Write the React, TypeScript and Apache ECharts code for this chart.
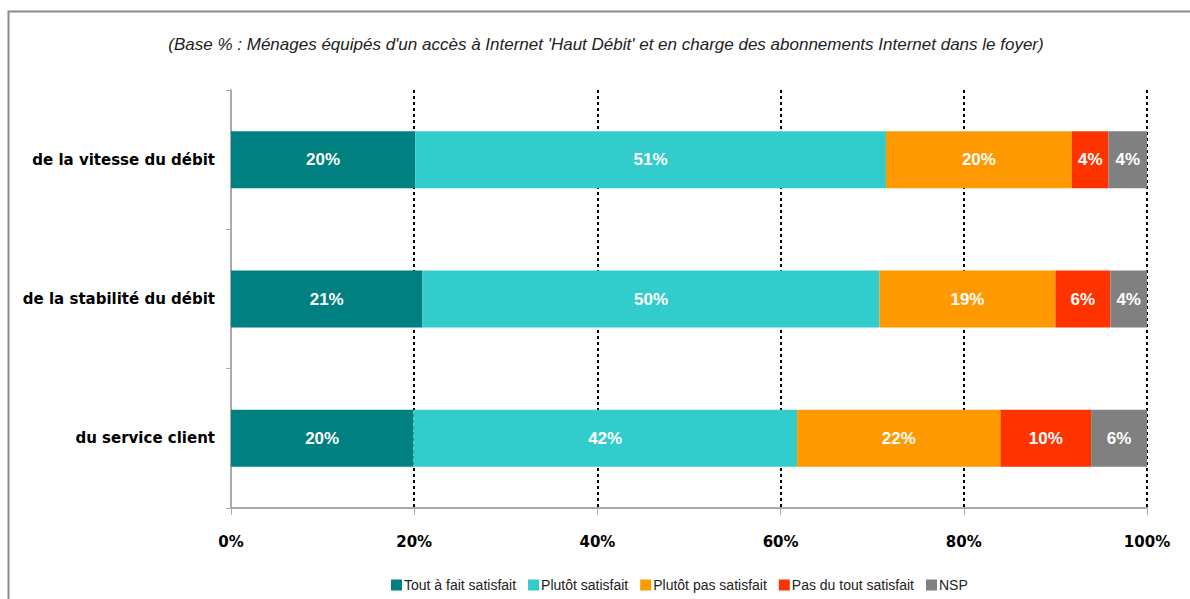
import React, { useEffect, useRef } from "react";
import * as echarts from "echarts";

const categories = ["de la vitesse du débit", "de la stabilité du débit", "du service client"];
const seriesNames = ["Tout à fait satisfait", "Plutôt satisfait", "Plutôt pas satisfait", "Pas du tout satisfait", "NSP"];
const toutAFait = [20.1, 20.9, 19.9];
const plutot = [51.4, 49.9, 41.9];
const plutotPas = [20.3, 19.2, 22.2];
const pasDuTout = [4.0, 6.0, 9.9];
const nsp = [4.2, 4.0, 6.1];
const xTicks = [0, 20, 40, 60, 80, 100];
const colors = ["#008080", "#33CCCC", "#FF9900", "#FF3300", "#808080"];
const title = "(Base % : Ménages équipés d'un accès à Internet 'Haut Débit' et en charge des abonnements Internet dans le foyer)";

const narrow = "'Liberation Sans', Arial, sans-serif";
const boldFont = "'DejaVu Sans', sans-serif";

export default function App() {
  const ref = useRef<HTMLDivElement>(null);
  useEffect(() => {
    if (!ref.current) return;
    const chart = echarts.init(ref.current, null, { renderer: "svg" });
    const values = [toutAFait, plutot, plutotPas, pasDuTout, nsp];
    chart.setOption({
      animation: false,
      backgroundColor: "#ffffff",
      title: {
        text: title,
        left: 601,
        textAlign: "center",
        top: 31,
        textStyle: { fontFamily: narrow, fontStyle: "italic", fontWeight: "normal", fontSize: 17, color: "#222" },
      },
      graphic: [
        {
          type: "rect",
          shape: { x: 8.5, y: 11.5, width: 1200, height: 700 },
          style: { fill: "none", stroke: "#8c8c8c", lineWidth: 2 },
          silent: true,
          z: -1,
        },
      ],
      legend: {
        bottom: 2,
        left: 386,
        icon: "rect",
        itemWidth: 11,
        itemHeight: 11,
        itemGap: 12,
        textStyle: { fontFamily: narrow, fontSize: 14, color: "#222", padding: [0, 0, 0, -3] },
        data: seriesNames,
      },
      grid: { left: 231, right: 43, top: 90, bottom: 91, containLabel: false },
      xAxis: {
        type: "value",
        min: xTicks[0],
        max: xTicks[xTicks.length - 1],
        interval: 20,
        axisLine: { show: true, lineStyle: { color: "#aaaaaa", width: 2 } },
        axisTick: { show: true, length: 7, lineStyle: { color: "#aaaaaa", width: 1 } },
        axisLabel: {
          formatter: "{value}%",
          margin: 26,
          fontFamily: boldFont,
          fontWeight: "bold",
          fontSize: 15,
          color: "#000",
        },
        splitLine: { show: true, lineStyle: { color: "#000", type: [3, 3], width: 2 } },
      },
      yAxis: {
        type: "category",
        inverse: true,
        data: categories,
        axisLine: { show: true, lineStyle: { color: "#aaaaaa", width: 2 } },
        axisTick: { show: true, length: 5, lineStyle: { color: "#aaaaaa" } },
        axisLabel: {
          margin: 16,
          fontFamily: boldFont,
          fontWeight: "bold",
          fontSize: 15,
          color: "#000",
        },
      },
      series: seriesNames.map((name, i) => ({
        name,
        type: "bar",
        stack: "total",
        barWidth: 57,
        data: values[i],
        itemStyle: { color: colors[i] },
        label: {
          show: true,
          position: "inside",
          formatter: (p: any) => Math.round(p.value) + "%",
          color: "#fff",
          fontFamily: "'Liberation Sans', Arial, sans-serif",
          fontWeight: "bold",
          fontSize: 17,
        },
      })),
    });
    return () => chart.dispose();
  }, []);
  return <div ref={ref} style={{ position: "fixed", left: 0, top: 0, width: 1190, height: 599 }} />;
}
